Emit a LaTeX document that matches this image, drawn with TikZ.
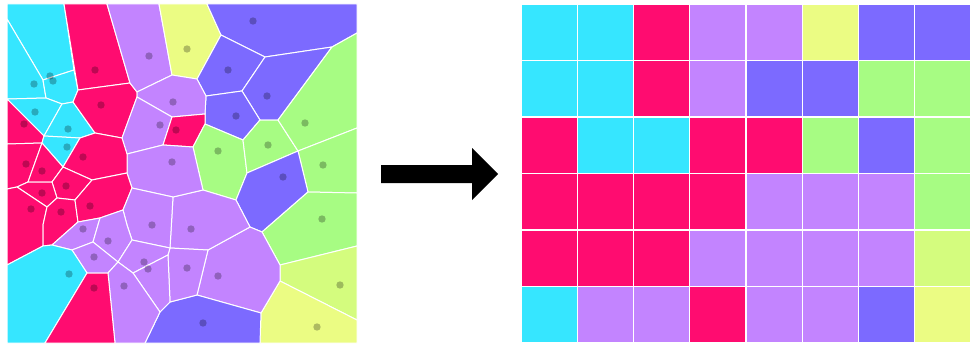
\documentclass[tikz,border=0pt]{standalone}
\usetikzlibrary{calc}
\definecolor{cy}{HTML}{36E6FF}
\definecolor{pk}{HTML}{FF0C70}
\definecolor{lp}{HTML}{C384FF}
\definecolor{vi}{HTML}{7C6AFF}
\definecolor{gr}{HTML}{A7FC83}
\definecolor{yl}{HTML}{EBFC83}
\definecolor{yg}{HTML}{D4FC7E}
\tikzset{cell/.style={fill=#1,draw=white,line width=1pt,line join=round},
 tile/.style={fill=#1,draw=white,line width=1.3pt},
 seed/.style={fill=black,fill opacity=.26}}

\begin{document}
\begin{tikzpicture}[x=1pt,y=-1pt]
 \useasboundingbox(0,0)rectangle(971,345);
 % voronoi cells
 \filldraw[cell=cy](7,4)--(64,4)--(74,70)--(43,80)--(7,19)--cycle;
 \filldraw[cell=cy](7,19)--(43,80)--(46,98)--(7,99)--cycle;
 \filldraw[cell=cy](43,80)--(74,70)--(78,90)--(73,102)--(62,104)--(46,98)--cycle;
 \filldraw[cell=cy](7,99)--(46,98)--(62,104)--(44,136)--cycle;
 \filldraw[cell=pk](7,99)--(44,136)--(42,143)--(7,144)--cycle;
 \filldraw[cell=cy](62,104)--(73,102)--(95,133)--(80,138)--(44,136)--cycle;
 \filldraw[cell=cy](44,136)--(80,138)--(63,167)--(42,143)--cycle;
 \filldraw[cell=pk](64,4)--(107,4)--(130,83)--(78,90)--cycle;
 \filldraw[cell=pk](78,90)--(130,83)--(137,92)--(137,97)--(122,138)--(95,133)--(73,102)--cycle;
 \filldraw[cell=lp](107,4)--(159,4)--(172,75)--(137,92)--(130,83)--cycle;
 \filldraw[cell=yl](159,4)--(207,4)--(221,35)--(197,79)--(172,75)--cycle;
 \filldraw[cell=vi](207,4)--(357,4)--(357,33)--(332,47)--(265,57)--(221,35)--cycle;
 \filldraw[cell=vi](221,35)--(265,57)--(242,91)--(206,96)--(197,79)--cycle;
 \filldraw[cell=vi](265,57)--(332,47)--(278,120)--(260,120)--(242,91)--cycle;
 \filldraw[cell=vi](206,96)--(242,91)--(260,120)--(243,140)--(205,124)--(205,114)--cycle;
 \filldraw[cell=lp](137,92)--(172,75)--(197,79)--(206,96)--(205,114)--(172,117)--(137,97)--cycle;
 \filldraw[cell=lp](137,97)--(172,117)--(163,145)--(127,154)--(122,138)--cycle;
 \filldraw[cell=pk](172,117)--(205,114)--(205,124)--(193,147)--(163,145)--cycle;
 \filldraw[cell=gr](205,124)--(243,140)--(247,173)--(236,200)--(203,190)--(193,147)--cycle;
 \filldraw[cell=gr](243,140)--(260,120)--(278,120)--(298,151)--(247,173)--cycle;
 \filldraw[cell=gr](332,47)--(357,33)--(357,128)--(298,151)--(278,120)--cycle;
 \filldraw[cell=gr](298,151)--(357,128)--(357,193)--(308,192)--cycle;
 \filldraw[cell=vi](247,173)--(298,151)--(308,192)--(262,232)--(250,227)--(236,200)--cycle;
 \filldraw[cell=gr](308,192)--(357,193)--(357,246)--(280,265)--(262,232)--cycle;
 \filldraw[cell=yg](280,265)--(357,246)--(357,320)--(280,281)--cycle;
 \filldraw[cell=yl](280,281)--(357,320)--(357,343)--(260,343)--(261,313)--cycle;
 \filldraw[cell=lp](208,250)--(250,227)--(262,232)--(280,265)--(280,281)--(261,313)--(197,295)--cycle;
 \filldraw[cell=vi](145,343)--(160,312)--(170,302)--(197,295)--(261,313)--(260,343)--cycle;
 \filldraw[cell=lp](173,197)--(203,190)--(236,200)--(250,227)--(208,250)--(170,248)--cycle;
 \filldraw[cell=lp](170,248)--(208,250)--(197,295)--(170,302)--(168,255)--cycle;
 \filldraw[cell=lp](127,154)--(163,145)--(193,147)--(203,190)--(173,197)--(132,188)--(127,173)--cycle;
 \filldraw[cell=pk](80,138)--(95,133)--(122,138)--(127,154)--(127,173)--(92,180)--(63,167)--cycle;
 \filldraw[cell=pk](7,144)--(42,143)--(28,182)--(17,187)--(7,189)--cycle;
 \filldraw[cell=pk](42,143)--(63,167)--(52,182)--(28,182)--cycle;
 \filldraw[cell=pk](63,167)--(92,180)--(75,200)--(57,198)--(52,182)--cycle;
 \filldraw[cell=pk](28,182)--(52,182)--(57,198)--(47,207)--(17,187)--cycle;
 \filldraw[cell=pk](7,189)--(17,187)--(47,207)--(43,225)--(43,246)--(7,265)--cycle;
 \filldraw[cell=pk](47,207)--(57,198)--(75,200)--(78,222)--(52,245)--(43,246)--(43,225)--cycle;
 \filldraw[cell=pk](75,200)--(92,180)--(127,173)--(132,188)--(123,210)--(100,218)--(78,222)--cycle;
 \filldraw[cell=lp](132,188)--(173,197)--(170,248)--(132,240)--(127,225)--(123,210)--cycle;
 \filldraw[cell=lp](52,245)--(72,250)--(93,242)--(100,218)--(78,222)--cycle;
 \filldraw[cell=lp](100,218)--(123,210)--(127,225)--(132,240)--(118,262)--(93,242)--cycle;
 \filldraw[cell=lp](72,250)--(93,242)--(118,262)--(108,273)--(87,273)--cycle;
 \filldraw[cell=lp](132,240)--(170,248)--(168,255)--(133,273)--(118,262)--cycle;
 \filldraw[cell=lp](133,273)--(168,255)--(170,302)--(160,312)--cycle;
 \filldraw[cell=lp](108,273)--(118,262)--(133,273)--(160,312)--(145,343)--(115,343)--cycle;
 \filldraw[cell=cy](7,265)--(43,246)--(52,245)--(72,250)--(87,273)--(45,343)--(7,343)--cycle;
 \filldraw[cell=pk](87,273)--(108,273)--(115,343)--(45,343)--cycle;
 % seeds
 \foreach \x/\y in {253/21,228/70,267/96,236/116,187/49,149/56,95/70,50/76,53/81,34/84,
  101/105,173/102,35/112,68/129,24/124,160/125,176/130,67/147,83/157,172/162,218/151,
  268/145,305/123,26/164,42/171,66/186,42/193,31/209,61/212,90/206,283/177,323/165,
  152/225,191/229,83/229,108/241,94/257,144/262,148/269,187/268,218/276,322/219,
  69/274,94/288,124/286,340/285,317/327,203/323}
  \fill[seed](\x,\y)circle(3.7);
 % arrow
 \fill[black](381,165)--(472,165)--(472,148)--(498,174)--(472,200)--(472,183)--(381,183)--cycle;
 % grid
 \foreach \row/\line in {0/{cy,cy,pk,lp,lp,yl,vi,vi},1/{cy,cy,pk,lp,vi,vi,gr,gr},
  2/{pk,cy,cy,pk,pk,gr,vi,gr},3/{pk,pk,pk,pk,lp,lp,lp,gr},
  4/{pk,pk,pk,lp,lp,lp,lp,yg},5/{cy,lp,lp,pk,lp,lp,vi,yl}}{
  \foreach \clr [count=\col from 0] in \line
   \filldraw[tile=\clr](521+\col*56.25,4+\row*56.5)rectangle++(56.25,56.5);}
\end{tikzpicture}
\end{document}
